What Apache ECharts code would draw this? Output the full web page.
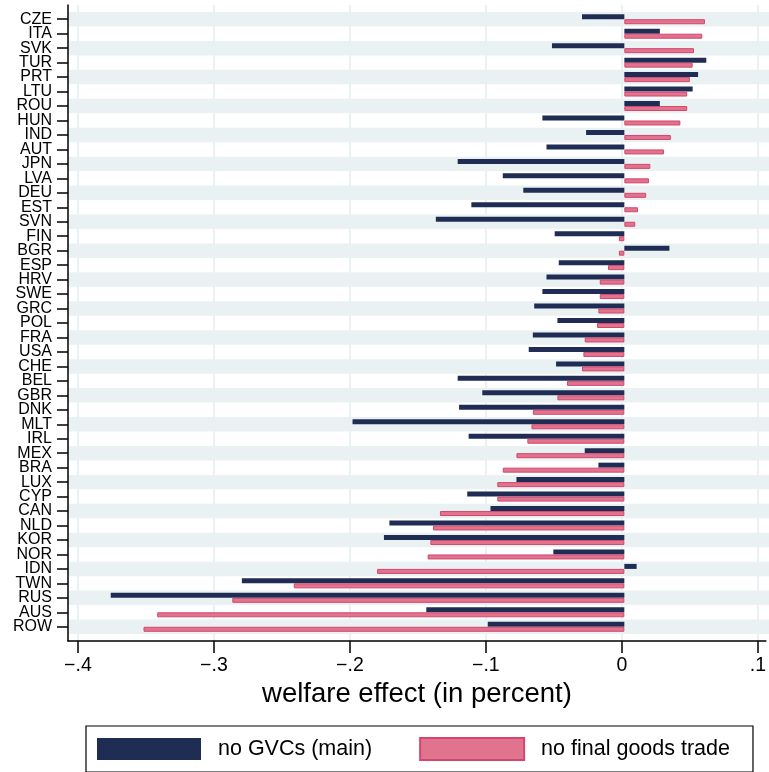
<!DOCTYPE html>
<html>
<head>
<meta charset="utf-8">
<script src="https://cdn.jsdelivr.net/npm/echarts@6/dist/echarts.min.js"></script>
<style>
html, body { margin: 0; padding: 0; background: #fff; }
#main { width: 769px; height: 772px; }
</style>
</head>
<body>
<div id="main"></div>
<script>
var countries = ['CZE', 'ITA', 'SVK', 'TUR', 'PRT', 'LTU', 'ROU', 'HUN', 'IND', 'AUT',
    'JPN', 'LVA', 'DEU', 'EST', 'SVN', 'FIN', 'BGR', 'ESP', 'HRV', 'SWE',
    'GRC', 'POL', 'FRA', 'USA', 'CHE', 'BEL', 'GBR', 'DNK', 'MLT', 'IRL',
    'MEX', 'BRA', 'LUX', 'CYP', 'CAN', 'NLD', 'KOR', 'NOR', 'IDN', 'TWN',
    'RUS', 'AUS', 'ROW'];

// no GVCs (main)
var noGVCs = [-0.031, 0.026, -0.053, 0.060, 0.054, 0.050, 0.026, -0.060, -0.028, -0.057,
    -0.122, -0.089, -0.074, -0.112, -0.138, -0.051, 0.033, -0.048, -0.057, -0.060,
    -0.066, -0.049, -0.067, -0.070, -0.050, -0.122, -0.104, -0.121, -0.199, -0.114,
    -0.029, -0.019, -0.079, -0.115, -0.098, -0.172, -0.176, -0.052, 0.009, -0.280,
    -0.376, -0.145, -0.100];

// no final goods trade
var noFinal = [0.059, 0.057, 0.051, 0.050, 0.048, 0.046, 0.046, 0.041, 0.034, 0.029,
    0.019, 0.018, 0.016, 0.010, 0.008, -0.004, -0.004, -0.012, -0.018, -0.018,
    -0.019, -0.020, -0.029, -0.030, -0.031, -0.042, -0.049, -0.067, -0.068, -0.071,
    -0.079, -0.089, -0.093, -0.093, -0.135, -0.140, -0.142, -0.144, -0.181, -0.242,
    -0.287, -0.342, -0.352];

var xTicks = [-0.4, -0.3, -0.2, -0.1, 0, 0.1];
var xTickLabels = ['\u2212.4', '\u2212.3', '\u2212.2', '\u2212.1', '0', '.1'];

var font = 'Liberation Sans, Arial, sans-serif';
var myChart = echarts.init(document.getElementById('main'));

option = {
    animation: false,
    textStyle: { fontFamily: font },
    grid: [
        { left: 68, right: 0, top: 12, bottom: 138 },
        { left: 68, right: 0, top: 5, bottom: 131 }
    ],
    legend: {
        left: 86,
        top: 726,
        padding: [11, 23, 11, 11],
        borderColor: '#000',
        borderWidth: 1.2,
        backgroundColor: '#fff',
        icon: 'rect',
        itemWidth: 104,
        itemHeight: 22,
        itemGap: 47,
        textStyle: {
            fontFamily: font,
            fontSize: 21.5,
            color: '#000',
            padding: [0, 0, 0, 12]
        },
        data: ['no GVCs (main)', 'no final goods trade']
    },
    xAxis: [{
        gridIndex: 0,
        type: 'value',
        min: -0.4073,
        max: 0.1059,
        show: false
    }, {
        gridIndex: 1,
        type: 'value',
        min: -0.4073,
        max: 0.1059,
        name: 'welfare effect (in percent)',
        nameLocation: 'middle',
        nameGap: 38,
        nameTextStyle: { fontFamily: font, fontSize: 27.5, color: '#000' },
        axisLine: { show: true, onZero: false, lineStyle: { color: '#000', width: 1.5 } },
        axisTick: {
            show: true,
            length: 12,
            customValues: xTicks,
            lineStyle: { color: '#000', width: 1.5 }
        },
        axisLabel: {
            customValues: xTicks,
            margin: 15,
            fontFamily: font,
            fontSize: 19.5,
            color: '#000',
            formatter: function (v) {
                var i = xTicks.indexOf(Math.round(v * 10) / 10);
                return i >= 0 ? xTickLabels[i] : '';
            }
        },
        splitLine: { show: true, lineStyle: { color: '#eaf1f3', width: 2 } }
    }],
    yAxis: [{
        gridIndex: 0,
        type: 'category',
        inverse: true,
        data: countries,
        axisLine: { show: false, onZero: false },
        axisTick: {
            show: true,
            interval: 0,
            alignWithLabel: true,
            length: 11,
            lineStyle: { color: '#000', width: 1.5 }
        },
        axisLabel: {
            interval: 0,
            margin: 16,
            fontFamily: font,
            fontSize: 16,
            color: '#000'
        },
        splitLine: { show: false },
        splitArea: {
            show: true,
            interval: 0,
            areaStyle: { color: ['#eaf1f3', 'rgba(0,0,0,0)'] }
        }
    }, {
        gridIndex: 1,
        type: 'value',
        axisLine: { show: true, onZero: false, lineStyle: { color: '#000', width: 1.5 } },
        axisTick: { show: false },
        axisLabel: { show: false },
        splitLine: { show: false }
    }],
    series: [{
        name: 'no GVCs (main)',
        type: 'bar',
        xAxisIndex: 0,
        yAxisIndex: 0,
        data: noGVCs,
        barWidth: 5,
        barGap: '0%',
        itemStyle: { color: '#1f2c54' }
    }, {
        name: 'no final goods trade',
        type: 'bar',
        xAxisIndex: 0,
        yAxisIndex: 0,
        data: noFinal,
        barWidth: 5,
        barGap: '0%',
        itemStyle: { color: '#e0748f', borderColor: '#d4466d', borderWidth: 1 }
    }]
};
myChart.setOption(option);
</script>
</body>
</html>
